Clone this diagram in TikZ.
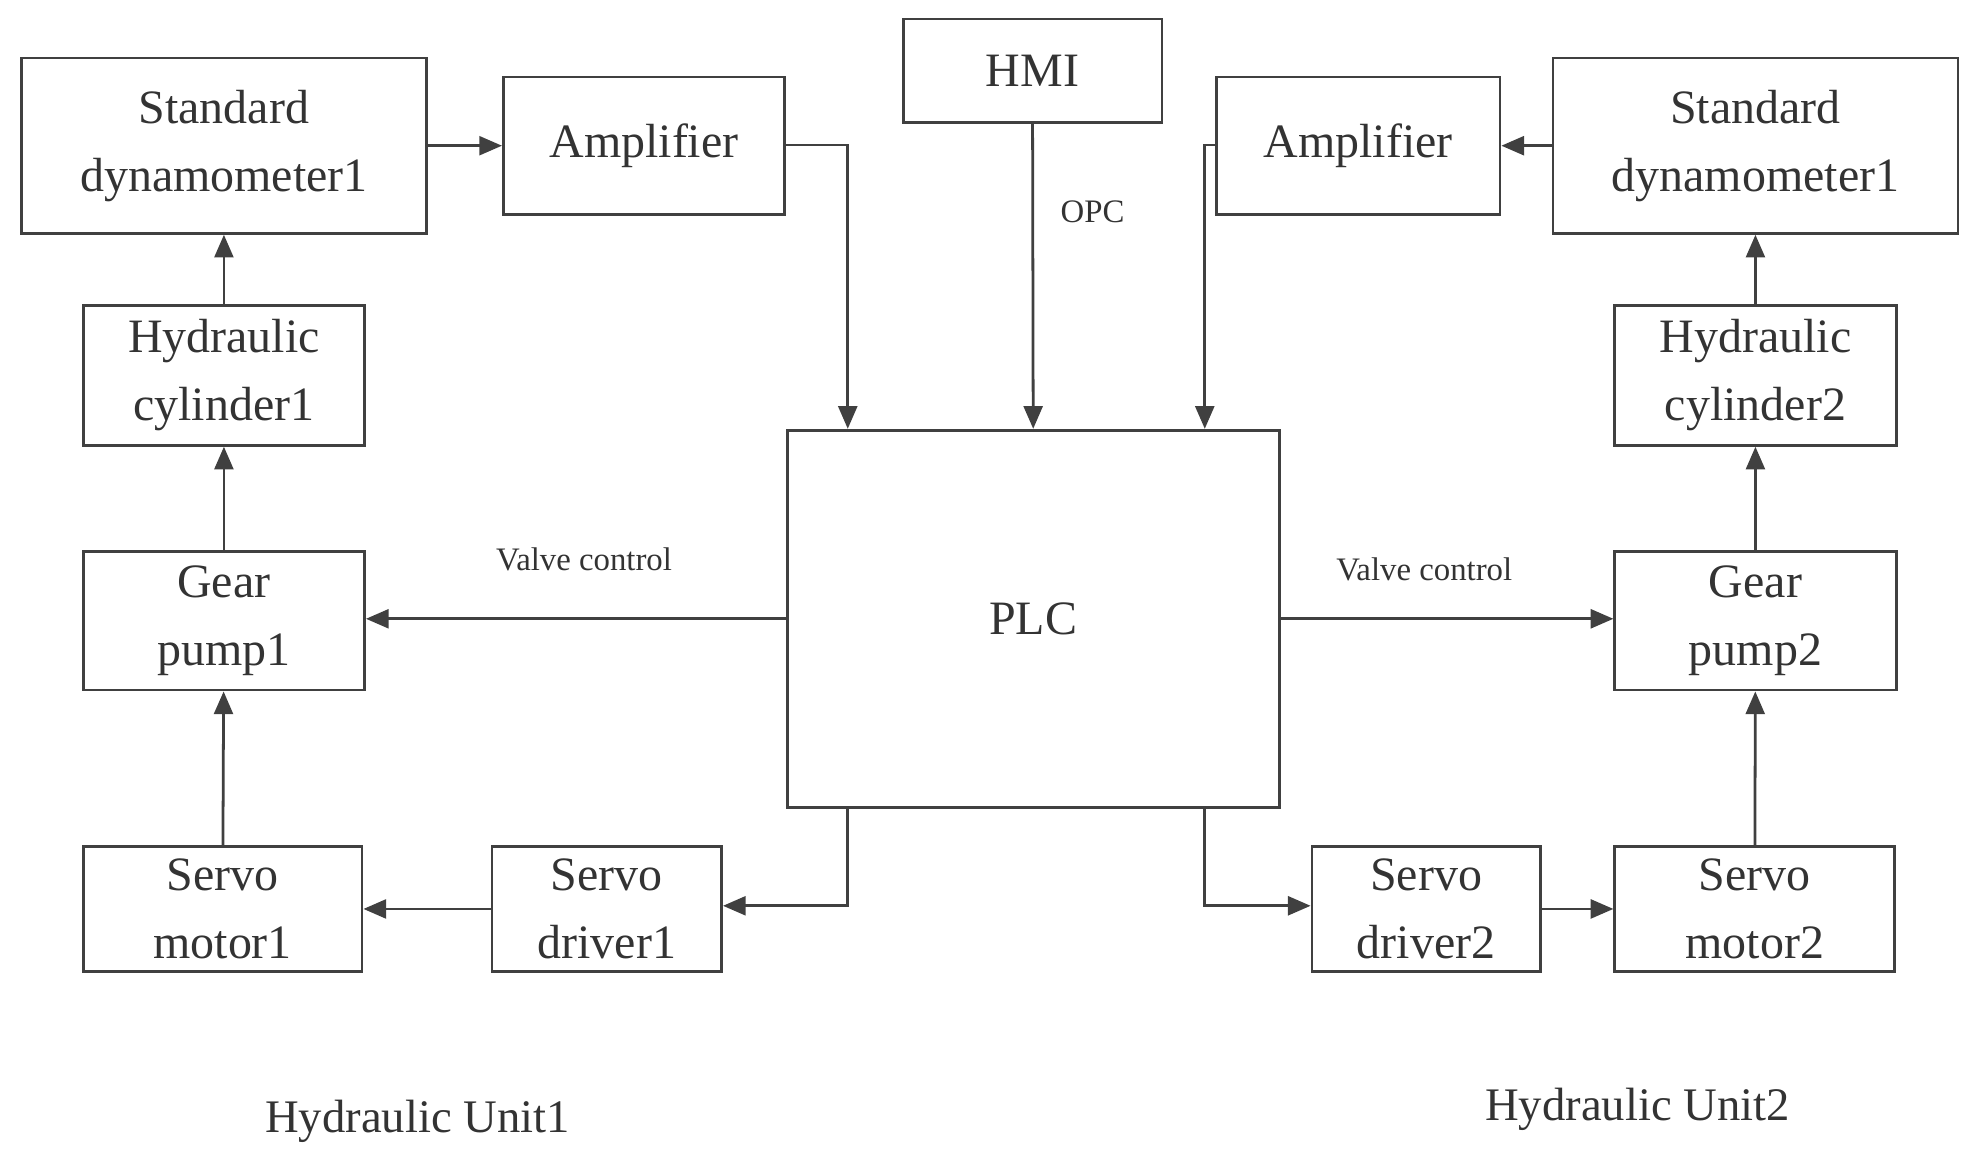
\documentclass[tikz,border=0pt]{standalone}
\usepackage{fontspec}
\setmainfont{Liberation Serif}
\usetikzlibrary{arrows.meta}
\begin{document}
\begin{tikzpicture}[x=1pt,y=-1pt,
  box/.style={draw=black!75,line width=2.2pt,align=center,inner sep=0pt,font=\fontsize{38}{54}\selectfont,text=black!80},
  arr/.style={draw=black!75,line width=2.2pt,-{Triangle[length=18pt,width=15pt]}},
  lab/.style={font=\fontsize{26}{30}\selectfont,text=black!80},
  big/.style={font=\fontsize{37}{42}\selectfont,text=black!80}]
\useasboundingbox (0,0) rectangle (1560,927);
\newcommand\bx[6]{\node[box,minimum width=#4-#2-2,minimum height=#5-#3-2] (#1) at ({(#2+#4)/2},{(#3+#5)/2}) {#6};}
\bx{sdA}{16}{45}{339}{186}{Standard\\dynamometer1}
\bx{ampA}{398}{60}{623}{171}{Amplifier}
\bx{hmi}{715}{14}{922}{98}{HMI}
\bx{ampB}{963}{60}{1190}{171}{Amplifier}
\bx{sdB}{1230}{45}{1553}{186}{Standard\\dynamometer1}
\bx{hcA}{65}{241}{290}{354}{Hydraulic\\cylinder1}
\bx{hcB}{1279}{241}{1504}{354}{Hydraulic\\cylinder2}
\bx{gpA}{65}{436}{290}{548}{Gear\\pump1}
\bx{gpB}{1279}{436}{1504}{548}{Gear\\pump2}
\bx{plc}{623}{340}{1015}{641}{PLC}
\bx{smA}{65}{670}{288}{771}{Servo\\motor1}
\bx{drA}{389}{670}{573}{771}{Servo\\driver1}
\bx{drB}{1039}{670}{1222}{771}{Servo\\driver2}
\bx{smB}{1279}{670}{1503}{771}{Servo\\motor2}
\node[lab] (vcA) at (463,443) {Valve control};
\node[lab] (vcB) at (1129,451) {Valve control};
\node[lab] (opc) at (866,168) {OPC};
\node[big] (huA) at (331,889) {Hydraulic Unit1};
\node[big] (huB) at (1298,879) {Hydraulic Unit2};
\coordinate (a1) at (672,115);
\coordinate (a2) at (955,115);
\coordinate (b1) at (672,718);
\coordinate (b2) at (955,718);
\draw[arr] (sdA.east |- ampA) -- (ampA.west);
\draw[arr] (sdB.west |- ampB) -- (ampB.east);
\draw[arr] (ampA.east |- a1) -- (a1) -- (a1 |- plc.north);
\draw[arr] (ampB.west |- a2) -- (a2) -- (a2 |- plc.north);
\draw[arr] (hmi.south) -- (plc.north);
\draw[arr] (hcA) -- (sdA);
\draw[arr] (gpA) -- (hcA);
\draw[arr] (smA) -- (gpA);
\draw[arr] (hcB.north) -- (hcB.north |- sdB.south);
\draw[arr] (gpB) -- (hcB);
\draw[arr] (smB) -- (gpB);
\draw[arr] (plc.west) -- (plc.west -| gpA.east);
\draw[arr] (plc.east) -- (plc.east -| gpB.west);
\draw[arr] (b1 |- plc.south) -- (b1) -- (drA.east |- b1);
\draw[arr] (drA) -- (smA);
\draw[arr] (b2 |- plc.south) -- (b2) -- (drB.west |- b2);
\draw[arr] (drB) -- (smB);
\end{tikzpicture}
\end{document}
